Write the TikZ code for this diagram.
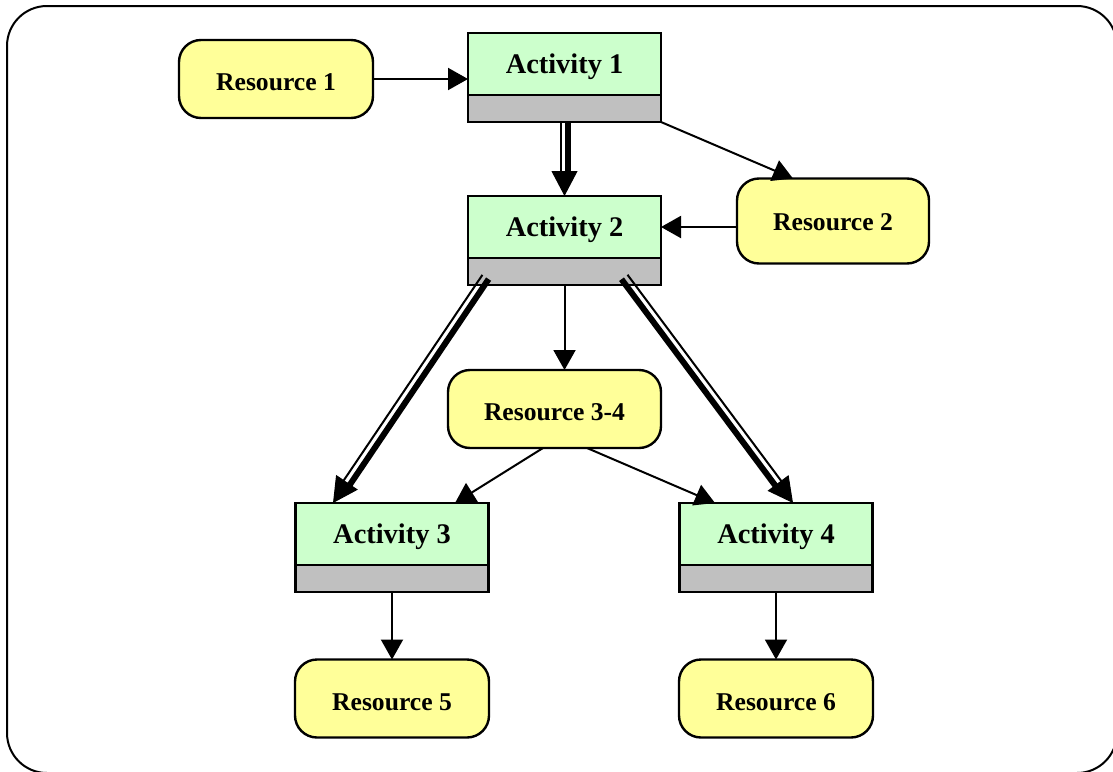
\documentclass[tikz,border=0pt]{standalone}
\usepackage{fontspec}
\setmainfont{Liberation Serif}
\usetikzlibrary{arrows.meta,calc}
\definecolor{actgreen}{HTML}{CCFFCC}
\definecolor{resyellow}{HTML}{FFFF99}
\definecolor{bargray}{HTML}{C0C0C0}
\begin{document}
\begin{tikzpicture}[x=0.5pt, y=-0.5pt,
  activity/.style={draw, line width=1.2pt, fill=actgreen, minimum width=96.5pt, minimum height=31pt, inner sep=0pt, outer sep=0pt, text height=9.3pt, text depth=0pt, font=\fontsize{14.2pt}{16pt}\selectfont\bfseries},
  actbar/.style={draw, line width=1.2pt, fill=bargray, minimum width=96.5pt, minimum height=13.5pt, inner sep=0pt, outer sep=0pt, anchor=north},
  resource/.style={draw, line width=1.2pt, fill=resyellow, rounded corners=11pt, minimum width=97pt, minimum height=39pt, inner sep=0pt, outer sep=0pt, text height=11.5pt, text depth=0pt, font=\fontsize{12.8pt}{15pt}\selectfont\bfseries},
  flow/.style={line width=1pt, -{Triangle[length=10pt,width=11pt]}},
  dblthin/.style={line width=1pt, shorten >=12pt},
  dblthick/.style={line width=3pt, shorten >=12pt},
  dblhead/.style={line width=0.5pt, -{Triangle[length=12.5pt,width=13pt]}}
]
\useasboundingbox (0,0) rectangle (1113,771);

% Frame
\draw[line width=1pt, rounded corners=20pt] (7,6) rectangle (1117,773);

% Activities
\node[activity] (a1) at (564.5,64) {Activity 1};
\node[actbar] (a1bar) at (a1.south) {};
\node[activity] (a2) at (564.5,227) {Activity 2};
\node[actbar] (a2bar) at (a2.south) {};
\node[activity] (a3) at (392,534) {Activity 3};
\node[actbar] (a3bar) at (a3.south) {};
\node[activity] (a4) at (776,534) {Activity 4};
\node[actbar] (a4bar) at (a4.south) {};

% Resources
\node[resource] (r1) at (276,79) {Resource 1};
\node[resource, minimum width=96pt, minimum height=42.5pt, text height=9.5pt] (r2) at (833,221) {Resource 2};
\node[resource, minimum width=106.5pt] (r34) at (554.5,409) {Resource 3-4};
\node[resource] (r5) at (392,698.5) {Resource 5};
\node[resource] (r6) at (776,698.5) {Resource 6};

% Resource flows
\draw[flow] (r1.east) -- (r1.east -| a1.west);
\draw[flow] (a1bar.south east) -- ($(r2.north)+(-40,0)$);
\draw[flow] (r2.west |- a2.east) -- (a2.east);
\draw[flow] (a2bar.south) -- (a2bar.south |- r34.north);
\draw[flow] ($(r34.south)+(-11.5,0)$) -- ($(a3.north)+(63,0)$);
\draw[flow] ($(r34.south)+(32.5,0)$) -- ($(a4.north)+(-61,0)$);
\draw[flow] (a3bar.south) -- (r5.north);
\draw[flow] (a4bar.south) -- (r6.north);

% Sequence, Activity 1 to 2
\coordinate (d12s) at (a1bar.south);
\coordinate (d12t) at (a2.north);
\draw[dblthin] ($(d12s)!1.875pt!-90:(d12t)$) -- ($(d12t)!1.875pt!90:(d12s)$);
\draw[dblthick] ($(d12s)!1.875pt!90:(d12t)$) -- ($(d12t)!1.875pt!-90:(d12s)$);
\draw[dblhead] ($(d12t)!12.5pt!(d12s)$) -- (d12t);

% Sequence, Activity 2 to 3
\coordinate (d23s) at ($(a2bar.center)+(-79,5.5)$);
\coordinate (d23t) at ($(a3.north)+(-59,0)$);
\draw[dblthin] ($(d23s)!1.875pt!-90:(d23t)$) -- ($(d23t)!1.875pt!90:(d23s)$);
\draw[dblthick] ($(d23s)!1.875pt!90:(d23t)$) -- ($(d23t)!1.875pt!-90:(d23s)$);
\draw[dblhead] ($(d23t)!12.5pt!(d23s)$) -- (d23t);

% Sequence, Activity 2 to 4
\coordinate (d24s) at ($(a2bar.center)+(60,5.5)$);
\coordinate (d24t) at ($(a4.north)+(17,0)$);
\draw[dblthin] ($(d24s)!1.875pt!90:(d24t)$) -- ($(d24t)!1.875pt!-90:(d24s)$);
\draw[dblthick] ($(d24s)!1.875pt!-90:(d24t)$) -- ($(d24t)!1.875pt!90:(d24s)$);
\draw[dblhead] ($(d24t)!12.5pt!(d24s)$) -- (d24t);
\end{tikzpicture}
\end{document}
